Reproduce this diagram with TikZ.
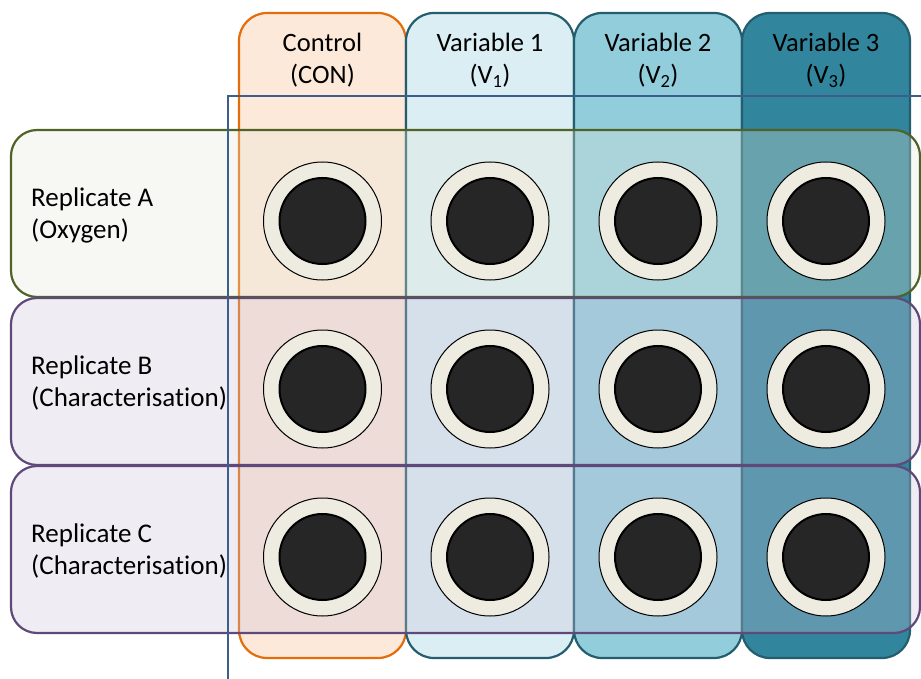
\documentclass[tikz,border=0pt]{standalone}
\usepackage{fontspec}
\setmainfont{Carlito}[Ligatures={NoCommon}]
\definecolor{conF}{HTML}{FDE9D9}
\definecolor{conD}{HTML}{E46C0A}
\definecolor{vaF}{HTML}{DAEEF3}
\definecolor{vbF}{HTML}{92CDDC}
\definecolor{vcF}{HTML}{31859C}
\definecolor{vD}{HTML}{245E6E}
\definecolor{rAF}{HTML}{E6E6D6}
\definecolor{rAD}{HTML}{4F6228}
\definecolor{rBF}{HTML}{CCC1DA}
\definecolor{rBD}{HTML}{5F497A}
\definecolor{blueL}{HTML}{3B5E8C}
\definecolor{wellF}{HTML}{EEECE1}
\definecolor{wellC}{HTML}{262626}
\begin{document}
\begin{tikzpicture}[x=1pt,y=-1pt,
  colbox/.style={line width=2.2pt, rounded corners=28pt},
  rowbox/.style={line width=2.2pt, rounded corners=26pt, fill opacity=0.3},
  lbl/.style={font=\fontsize{26.5}{32}\selectfont, align=center, text=black, inner sep=0pt},
  rlbl/.style={font=\fontsize{27}{32}\selectfont, align=left, anchor=west, text=black, inner sep=0pt},
  wellout/.style={circle, minimum size=118pt, inner sep=0pt, fill=wellF, draw=black, line width=1pt},
  wellin/.style={circle, minimum size=86pt, inner sep=0pt, fill=wellC, draw=black, line width=2pt}]
\useasboundingbox (0,0) rectangle (921,679);
\clip (0,0) rectangle (921,679);
% columns
\draw[colbox, draw=conD, fill=conF] (239,13) rectangle (406,658);
\draw[colbox, draw=vD, fill=vaF] (406,13) rectangle (574,658);
\draw[colbox, draw=vD, fill=vbF] (574,13) rectangle (742,658);
\draw[colbox, draw=vD, fill=vcF] (742,13) rectangle (910,658);
% rows
\draw[rowbox, draw=rAD, fill=rAF] (11,130) rectangle (920,297);
\draw[rowbox, draw=rBD, fill=rBF] (11,298) rectangle (920,465);
\draw[rowbox, draw=rBD, fill=rBF] (11,466) rectangle (920,633);
% headers
\node[lbl] (hcon) at (322.5,60) {Control\\(CON)};
\node[lbl] (hv1) at (490,60) {Variable 1\\(V\textsubscript{1})};
\node[lbl] (hv2) at (658,60) {Variable 2\\(V\textsubscript{2})};
\node[lbl] (hv3) at (826,60) {Variable 3\\(V\textsubscript{3})};
% row labels
\node[rlbl] (ra) at (31,215) {Replicate A\\(Oxygen)};
\node[rlbl] (rb) at (31,383) {Replicate B\\(Characterisation)};
\node[rlbl] (rc) at (31,551) {Replicate C\\(Characterisation)};
% wells
\foreach \cx/\cn in {322.5/1,490/2,658/3,826/4}{
  \foreach \cy/\rn in {221/a,389/b,557/c}{
    \node[wellout] (wo\rn\cn) at (\cx,\cy) {};
    \node[wellin] (wi\rn\cn) at (\cx,\cy) {};
  }
}
% blue frame
\draw[blueL, line width=2pt] (228,96) rectangle (960,720);
\end{tikzpicture}
\end{document}
